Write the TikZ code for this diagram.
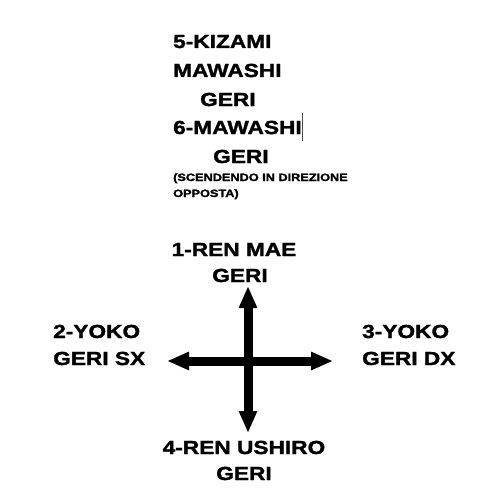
\documentclass[tikz,border=0pt]{standalone}
\usepackage{fontspec}
\newfontfamily\karate{Liberation Sans}[FakeStretch=1.2,FakeBold=1.6]
\usetikzlibrary{arrows.meta}
\tikzset{
  big/.style={font=\karate\bfseries\fontsize{18.9}{27}\selectfont, inner sep=0pt},
  small/.style={font=\karate\bfseries\fontsize{10.6}{16}\selectfont, inner sep=0pt},
  kick/.style={line width=9pt, {Triangle[length=22pt,width=17pt]}-{Triangle[length=22pt,width=17pt]}},
  cursor/.style={draw=black!70, line width=0.8pt}
}
\begin{document}
\begin{tikzpicture}[x=1pt,y=-1pt]
  \useasboundingbox (0,0) rectangle (482,503);
  % the two kicks at the top
  \node[big, anchor=base west] (kizami) at (173,48) {5-KIZAMI};
  \node[big, anchor=base west] (mawashiA) at (173,77) {MAWASHI};
  \node[big, anchor=base west] (geriA) at (200,106) {GERI};
  \node[big, anchor=base west] (mawashiB) at (173,134) {6-MAWASHI};
  \node[big, anchor=base west] (geriB) at (213,163) {GERI};
  \node[small, anchor=base west] (note) at (173,181) {(SCENDENDO IN DIREZIONE};
  \node[small, anchor=base west] (noteB) at (173,197) {OPPOSTA)};
  \draw[cursor] (302,113) -- (302,141);
  % the cross
  \coordinate (up) at (248,286);
  \coordinate (down) at (248,433);
  \coordinate (left) at (167,361);
  \coordinate (right) at (333,361);
  \draw[kick] (down) -- (up);
  \draw[kick] (left) -- (right);
  % labels round the cross
  \node[big, anchor=base] (mae) at (234,256) {1-REN MAE};
  \node[big, anchor=base] (maeB) at (240,282) {GERI};
  \node[big, anchor=base west] (yokoSx) at (53,338) {2-YOKO};
  \node[big, anchor=base west] (yokoSxB) at (53,365) {GERI SX};
  \node[big, anchor=base west] (yokoDx) at (362,338) {3-YOKO};
  \node[big, anchor=base west] (yokoDxB) at (362,365) {GERI DX};
  \node[big, anchor=base] (ushiro) at (244,454) {4-REN USHIRO};
  \node[big, anchor=base] (ushiroB) at (244,480) {GERI};
\end{tikzpicture}
\end{document}
